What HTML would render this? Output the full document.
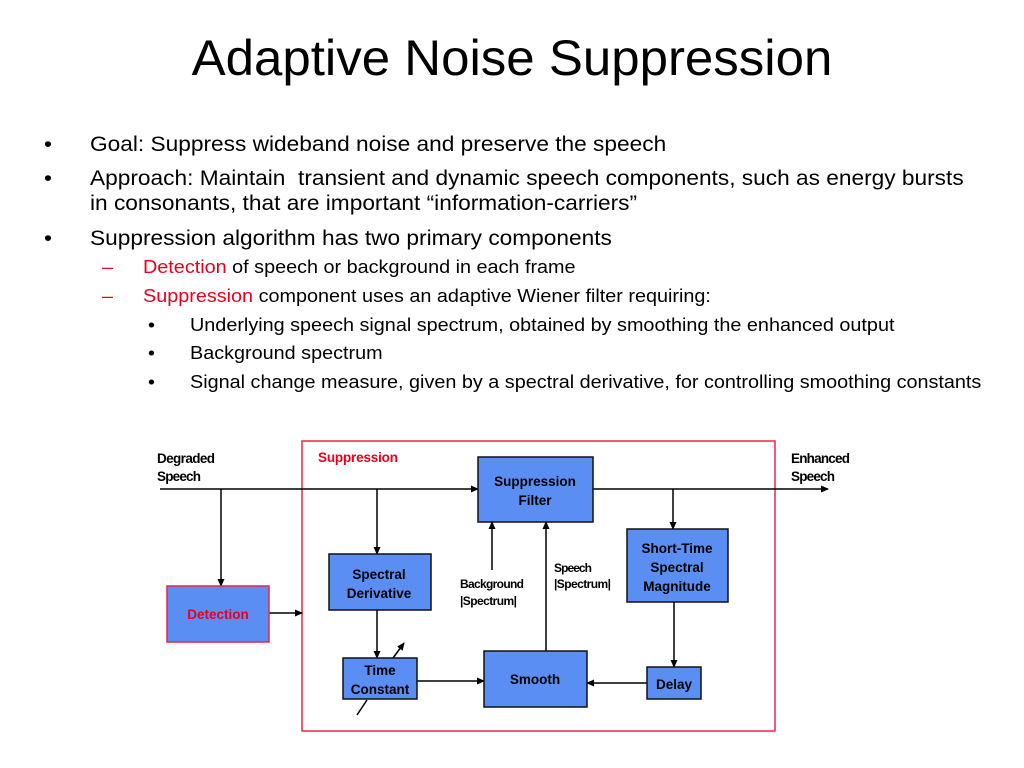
<!DOCTYPE html>
<html><head><meta charset="utf-8"><style>
body{margin:0;width:1024px;height:768px;background:#fff;position:relative;font-family:"Liberation Sans",Arial,sans-serif;overflow:hidden}
.t{position:absolute;white-space:nowrap;line-height:1;transform-origin:0 0}
.a{font-size:21px;transform:scaleX(1.08)}.b{font-size:18px;transform:scaleX(1.1)}
.r{color:#e8001c}
</style></head><body>
<div class="t" style="left:0;width:1024px;text-align:center;top:33px;font-size:50px;transform:scaleX(1.02);transform-origin:50% 0">Adaptive Noise Suppression</div>
<div class="t a" style="left:44px;top:134px">•</div><div class="t a" style="left:90px;top:134px">Goal: Suppress wideband noise and preserve the speech</div>
<div class="t a" style="left:44px;top:168px">•</div><div class="t a" style="left:90px;top:168px">Approach: Maintain&nbsp; transient and dynamic speech components, such as energy bursts</div>
<div class="t a" style="left:90px;top:193px">in consonants, that are important “information-carriers”</div>
<div class="t a" style="left:44px;top:228px">•</div><div class="t a" style="left:90px;top:228px">Suppression algorithm has two primary components</div>
<div class="t b r" style="left:102px;top:258px">–</div><div class="t b" style="left:143px;top:258px"><span class="r">Detection</span> of speech or background in each frame</div>
<div class="t b r" style="left:102px;top:287px">–</div><div class="t b" style="left:143px;top:287px"><span class="r">Suppression</span> component uses an adaptive Wiener filter requiring:</div>
<div class="t b" style="left:148px;top:316px">•</div><div class="t b" style="left:190px;top:316px">Underlying speech signal spectrum, obtained by smoothing the enhanced output</div>
<div class="t b" style="left:148px;top:344px">•</div><div class="t b" style="left:190px;top:344px">Background spectrum</div>
<div class="t b" style="left:148px;top:373px">•</div><div class="t b" style="left:190px;top:373px">Signal change measure, given by a spectral derivative, for controlling smoothing constants</div>
<svg width="1024" height="768" style="position:absolute;left:0;top:0" font-family="Liberation Sans, Arial, sans-serif" font-weight="bold" font-size="13.5">
<defs><marker id="m" markerWidth="8" markerHeight="8" refX="7" refY="4" orient="auto" markerUnits="userSpaceOnUse"><path d="M0,0.5 L8,4 L0,7.5z" fill="#000"/></marker></defs>
<rect x="302" y="441" width="473" height="290" fill="none" stroke="#e8264a" stroke-width="1.5"/>
<text x="318" y="462" fill="#e8001c" textLength="80">Suppression</text>
<text x="157" y="463" textLength="58">Degraded</text><text x="157" y="481" textLength="44">Speech</text>
<text x="791" y="463" textLength="59">Enhanced</text><text x="791" y="481" textLength="44">Speech</text>
<g stroke="#000" stroke-width="1.5" fill="none" marker-end="url(#m)">
<line x1="160" y1="489" x2="478" y2="489"/>
<line x1="593" y1="489" x2="828" y2="489"/>
<line x1="221" y1="489" x2="221" y2="586"/>
<line x1="269" y1="613" x2="302" y2="613"/>
<line x1="377" y1="489" x2="377" y2="554"/>
<line x1="377" y1="610" x2="377" y2="658"/>
<line x1="417" y1="681" x2="484" y2="681"/>
<line x1="492" y1="570" x2="492" y2="522"/>
<line x1="546" y1="651" x2="546" y2="522"/>
<line x1="673" y1="489" x2="673" y2="529"/>
<line x1="674" y1="602" x2="674" y2="667"/>
<line x1="647" y1="683" x2="587" y2="683"/>
<line x1="393" y1="658" x2="404" y2="643"/>
</g>
<line x1="357" y1="715" x2="367" y2="700" stroke="#000" stroke-width="1.5"/>
<g fill="#5b8ef2" stroke="#111" stroke-width="1.5">
<rect x="478" y="457" width="115" height="65"/>
<rect x="329" y="554" width="102" height="56"/>
<rect x="343" y="658" width="74" height="41"/>
<rect x="484" y="651" width="103" height="56"/>
<rect x="627" y="529" width="101" height="73"/>
<rect x="647" y="667" width="54" height="32"/>
<rect x="167" y="586" width="102" height="56" stroke="#e8264a"/>
</g>
<g text-anchor="middle">
<text x="535" y="486">Suppression</text><text x="535" y="505">Filter</text>
<text x="379" y="579">Spectral</text><text x="379" y="598">Derivative</text>
<text x="380" y="675">Time</text><text x="380" y="694">Constant</text>
<text x="535" y="684">Smooth</text>
<text x="677" y="553">Short-Time</text><text x="677" y="572">Spectral</text><text x="677" y="591">Magnitude</text>
<text x="674" y="689">Delay</text>
<text x="218" y="619" fill="#e8001c">Detection</text>
</g>
<g font-size="12">
<text x="460" y="588" textLength="64">Background</text><text x="460" y="605" textLength="57">|Spectrum|</text>
<text x="554" y="572" textLength="38">Speech</text><text x="554" y="588" textLength="57">|Spectrum|</text>
</g>
</svg>
</body></html>
